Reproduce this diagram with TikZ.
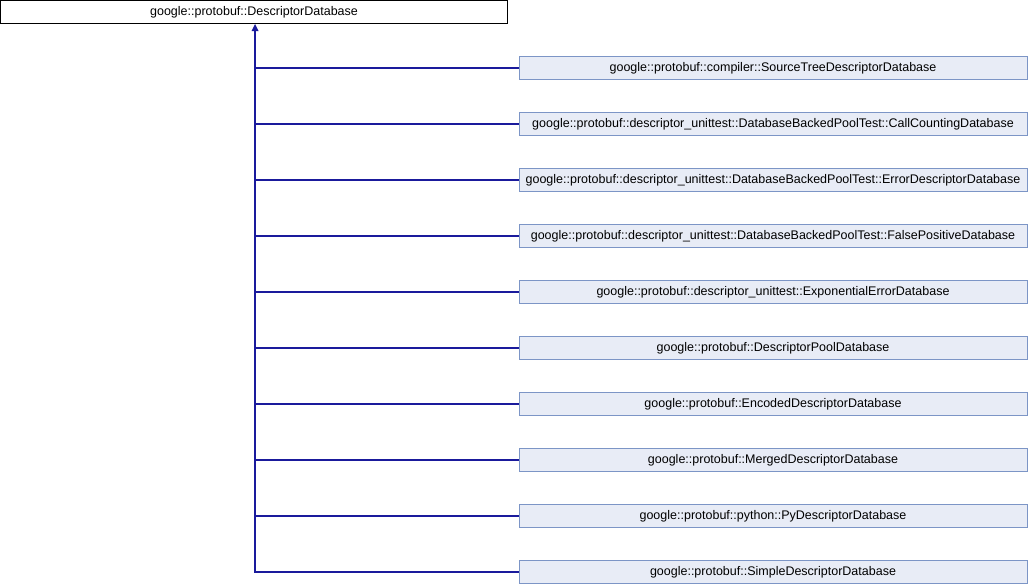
\documentclass[tikz,border=0pt]{standalone}
\usepackage{fontspec}
\setmainfont{Liberation Sans}
\definecolor{edgeblue}{HTML}{1A1A9C}
\definecolor{boxfill}{HTML}{E8ECF6}
\definecolor{boxline}{HTML}{7C95C6}
\begin{document}
\begin{tikzpicture}[x=1pt,y=-1pt,
  basebox/.style={draw=black,fill=white,line width=1pt,minimum width=507pt,minimum height=23pt,inner sep=0pt,font=\fontsize{12.5}{15}\selectfont},
  childbox/.style={draw=boxline,fill=boxfill,line width=1pt,minimum width=508pt,minimum height=23pt,inner sep=0pt,font=\fontsize{12.5}{15}\selectfont},
  inh/.style={draw=edgeblue,line width=1.3pt}]
\useasboundingbox (0,0) rectangle (1028,584);
\node[basebox] (base) at (254,12) {google::protobuf::DescriptorDatabase};
\node[childbox] (c1) at (773,68) {google::protobuf::compiler::SourceTreeDescriptorDatabase};
\node[childbox] (c2) at (773,124) {google::protobuf::descriptor\_unittest::DatabaseBackedPoolTest::CallCountingDatabase};
\node[childbox] (c3) at (773,180) {google::protobuf::descriptor\_unittest::DatabaseBackedPoolTest::ErrorDescriptorDatabase};
\node[childbox] (c4) at (773,236) {google::protobuf::descriptor\_unittest::DatabaseBackedPoolTest::FalsePositiveDatabase};
\node[childbox] (c5) at (773,292) {google::protobuf::descriptor\_unittest::ExponentialErrorDatabase};
\node[childbox] (c6) at (773,348) {google::protobuf::DescriptorPoolDatabase};
\node[childbox] (c7) at (773,404) {google::protobuf::EncodedDescriptorDatabase};
\node[childbox] (c8) at (773,460) {google::protobuf::MergedDescriptorDatabase};
\node[childbox] (c9) at (773,516) {google::protobuf::python::PyDescriptorDatabase};
\node[childbox] (c10) at (773,572) {google::protobuf::SimpleDescriptorDatabase};
\coordinate (bend) at (255,572);
\coordinate (top) at (base.south -| bend);
\draw[inh] (c10.west) -- (bend) -- ([yshift=-5pt]top);
\foreach \i in {1,...,9} {
  \draw[inh] (c\i.west) -- (c\i.west -| bend);
}
\fill[edgeblue] (top) -- ++(-3.5,7) -- ++(7,0) -- cycle;
\end{tikzpicture}
\end{document}
